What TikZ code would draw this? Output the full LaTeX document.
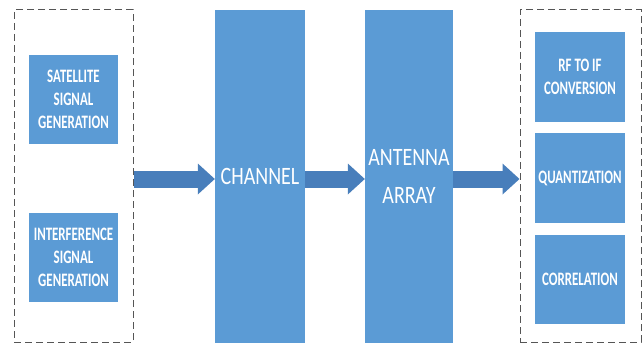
\documentclass[tikz,border=0pt]{standalone}
\usepackage{fontspec}
\setmainfont{Carlito}[FakeStretch=0.8]
\newfontfamily\narrowfont{Carlito}[FakeStretch=0.68]
\usepackage{tikz}
\usetikzlibrary{arrows.meta}
\definecolor{boxblue}{RGB}{91,155,213}
\definecolor{arrowblue}{RGB}{72,126,187}
\definecolor{dashgray}{RGB}{85,85,85}

\begin{document}
\begin{tikzpicture}[x=1pt,y=-1pt]
        \tikzset{
        block/.style={fill=boxblue, text=white, inner sep=0pt, align=center,
                font=\narrowfont\bfseries\fontsize{19}{23}\selectfont,
                minimum width=89pt, minimum height=89pt},
        tallblock/.style={block, font=\fontsize{25}{38}\selectfont,
                minimum height=333pt},
        groupbox/.style={draw=dashgray, line width=1pt,
                dash pattern=on 7pt off 4pt, minimum height=332pt},
        flow/.style={draw=arrowblue, line width=17pt,
                -{Triangle[length=17pt, width=31pt, line width=0pt]}}}
        \useasboundingbox (0,0) rectangle (642,345);
        \node[groupbox, minimum width=119pt] (srcgrp) at (73.5,176) {};
        \node[block] (sat) at (73.5,99.5) {SATELLITE\\SIGNAL\\GENERATION};
        \node[block] (intf) at (73.5,257) {INTERFERENCE\\SIGNAL\\GENERATION};
        \node[tallblock, minimum width=90pt] (chan) at (260,176.5) {CHANNEL};
        \node[tallblock, minimum width=88pt] (ant) at (409,176.5) {ANTENNA\\ARRAY};
        \node[groupbox, minimum width=121pt] (rxgrp) at (580.5,176) {};
        \node[block, minimum width=90pt, minimum height=90pt] (rfif) at (580,77) {RF TO IF\\CONVERSION};
        \node[block, minimum width=90pt, minimum height=90pt] (quant) at (580,178) {QUANTIZATION};
        \node[block, minimum width=90pt] (corr) at (580,279.5) {CORRELATION};
        \coordinate (flowline) at (0,179);
        \draw[flow] (srcgrp.east |- flowline) -- (chan.west |- flowline);
        \draw[flow] (chan.east |- flowline) -- (ant.west |- flowline);
        \draw[flow] (ant.east |- flowline) -- (rxgrp.west |- flowline);
    \end{tikzpicture}
\end{document}
